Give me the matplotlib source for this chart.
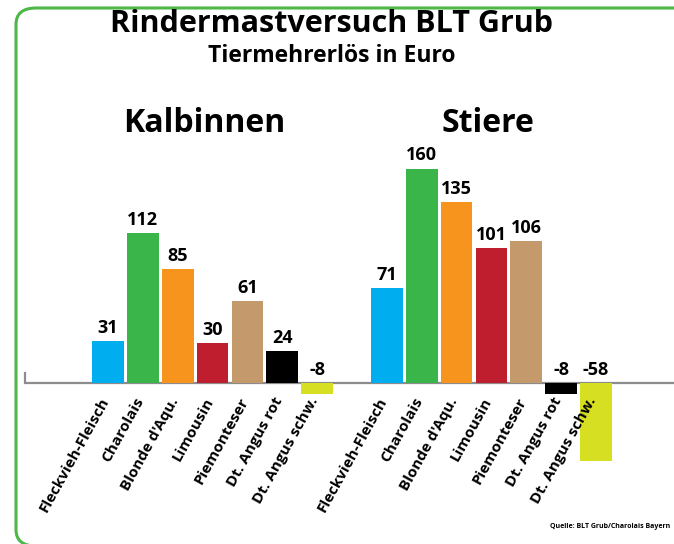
import matplotlib
matplotlib.use("Agg")
import matplotlib.pyplot as plt
from matplotlib.patches import FancyBboxPatch

breeds = ["Fleckvieh-Fleisch", "Charolais", "Blonde d'Aqu.", "Limousin",
          "Piemonteser", "Dt. Angus rot", "Dt. Angus schw."]
kalbinnen = [31, 112, 85, 30, 61, 24, -8]
stiere = [71, 160, 135, 101, 106, -8, -58]
colors = ["#00AEEF", "#39B54A", "#F7941D", "#BE1E2D", "#C49A6C", "#000000", "#D7DF23"]

plt.rcParams['font.family'] = ['Open Sans', 'DejaVu Sans']
W, H = 674, 544
fig = plt.figure(figsize=(W / 100, H / 100), dpi=100)


def fx(px):
    return px / W


def fy(py):
    return 1 - py / H


# green rounded frame (right and bottom edges run off the picture)
frame = FancyBboxPatch((fx(16), fy(546)), fx(900) - fx(16), fy(8) - fy(546),
                       boxstyle="round,pad=0,rounding_size=0.03",
                       transform=fig.transFigure, fill=False,
                       edgecolor="#4DB848", lw=2.2, zorder=0, clip_on=False)
fig.patches.append(frame)

ax = fig.add_axes([fx(25), 0, fx(649), 1])
ax.set_xlim(-2.381, 16.237)
ax.set_ylim(-120.1, 285.8)
ax.axis('off')

xk = list(range(len(breeds)))
xs = [i + 8 for i in range(len(breeds))]
ax.bar(xk, kalbinnen, width=0.91, color=colors, zorder=2)
ax.bar(xs, stiere, width=0.91, color=colors, zorder=2)

# baseline with the little tick on its left end
ax.axhline(0, color="#8C8C8C", lw=1.6, zorder=1)
ax.plot([-2.381, -2.381], [0, 7.5], color="#8C8C8C", lw=1.6, clip_on=False)

for xpos, vals in ((xk, kalbinnen), (xs, stiere)):
    for x, v, name in zip(xpos, vals, breeds):
        ax.annotate(str(v), (x, max(v, 0)), xytext=(0, 3), textcoords='offset points',
                    ha='center', va='bottom', fontsize=13, fontweight='bold', zorder=3)
        ax.annotate(name, (x, 0), xytext=(-2, -11), textcoords='offset points',
                    ha='right', va='center', rotation=61, rotation_mode='anchor',
                    fontsize=11, fontweight='bold', zorder=4)

fig.text(fx(331), fy(24), "Rindermastversuch BLT Grub", ha='center', va='center',
         fontsize=22, fontweight='bold')
fig.text(fx(332), fy(56), "Tiermehrerlös in Euro", ha='center', va='center',
         fontsize=16.5, fontweight='bold')
fig.text(fx(204), fy(123), "Kalbinnen", ha='center', va='center',
         fontsize=23, fontweight='bold')
fig.text(fx(488), fy(123), "Stiere", ha='center', va='center',
         fontsize=23, fontweight='bold')
fig.text(fx(670), fy(526), "Quelle: BLT Grub/Charolais Bayern", ha='right', va='center',
         fontsize=5, fontweight='bold')

fig.savefig("out.png", dpi=100)
